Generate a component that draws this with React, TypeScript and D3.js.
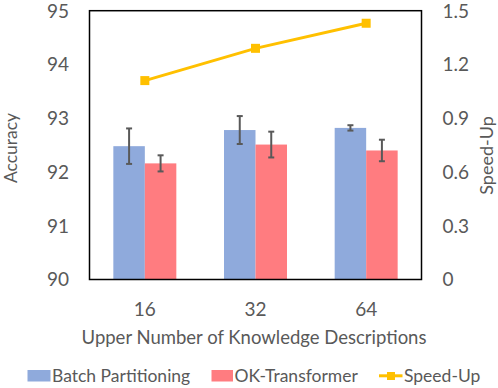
import React from "react";
import * as d3 from "d3";

// values
const categories = ["16", "32", "64"];
const series = ["Batch Partitioning", "OK-Transformer"];
const batchAcc = [92.48, 92.78, 92.82];
const batchErr = [0.33, 0.26, 0.05];
const okAcc = [92.16, 92.51, 92.4];
const okErr = [0.15, 0.24, 0.2];
const speedUp = [1.11, 1.29, 1.43];
const accTicks = [90, 91, 92, 93, 94, 95];
const speedTicks = [0, 0.3, 0.6, 0.9, 1.2, 1.5];

const colors = ["#8FAADC", "#FF7C80"];
const lineColor = "#FFC000";
const textColor = "#595959";
const font = "Lato, 'Open Sans', sans-serif";

const W = 498;
const H = 388;
const plot = { left: 89.5, right: 421.5, top: 10.7, bottom: 279.5 };

export default function App() {
  const x = d3.scaleBand().domain(categories).range([plot.left, plot.right]);
  const sub = d3
    .scaleBand()
    .domain(series)
    .range([0, x.bandwidth()])
    .paddingOuter(0.757);
  const yAcc = d3.scaleLinear().domain([90, 95]).range([plot.bottom, plot.top]);
  const ySpeed = d3.scaleLinear().domain([0, 1.5]).range([plot.bottom, plot.top]);

  const values = [batchAcc, okAcc];
  const errs = [batchErr, okErr];

  const line = d3
    .line<number>()
    .x((_, i) => x(categories[i])! + x.bandwidth() / 2)
    .y((d) => ySpeed(d));

  return (
    <svg width={W} height={H} style={{ position: "absolute", left: 0, top: 0 }} fontFamily={font}>
      <rect width={W} height={H} fill="#fff" />

      {series.map((s, si) =>
        categories.map((c, ci) => {
          const bx = x(c)! + sub(s)!;
          const top = yAcc(values[si][ci]);
          return (
            <rect
              key={s + c}
              x={bx}
              y={top}
              width={sub.bandwidth()}
              height={plot.bottom - top}
              fill={colors[si]}
            />
          );
        })
      )}

      {series.map((s, si) =>
        categories.map((c, ci) => {
          const cx = x(c)! + sub(s)! + sub.bandwidth() / 2;
          const hi = yAcc(values[si][ci] + errs[si][ci]);
          const lo = yAcc(values[si][ci] - errs[si][ci]);
          return (
            <g key={"e" + s + c} stroke="#595959" strokeWidth={2}>
              <line x1={cx} x2={cx} y1={hi} y2={lo} />
              <line x1={cx - 3} x2={cx + 3} y1={hi} y2={hi} />
              <line x1={cx - 3} x2={cx + 3} y1={lo} y2={lo} />
            </g>
          );
        })
      )}

      <rect
        x={plot.left}
        y={plot.top}
        width={plot.right - plot.left}
        height={plot.bottom - plot.top}
        fill="none"
        stroke="#000"
        strokeWidth={1.5}
      />

      <path d={line(speedUp)!} fill="none" stroke={lineColor} strokeWidth={3} />
      {speedUp.map((v, i) => (
        <rect
          key={"m" + i}
          x={x(categories[i])! + x.bandwidth() / 2 - 4.5}
          y={ySpeed(v) - 4.5}
          width={9}
          height={9}
          fill={lineColor}
        />
      ))}

      {accTicks.map((t) => (
        <text key={"l" + t} x={69} y={yAcc(t)} dy="0.36em" textAnchor="end" fontSize={19} fill={textColor}>
          {t}
        </text>
      ))}
      {speedTicks.map((t) => (
        <text key={"r" + t} x={442.5} y={ySpeed(t)} dy="0.36em" textAnchor="start" fontSize={19} fill={textColor}>
          {t === 0 ? "0" : d3.format(".1f")(t)}
        </text>
      ))}
      {categories.map((c) => (
        <text
          key={"x" + c}
          x={x(c)! + x.bandwidth() / 2}
          y={315.7}
          textAnchor="middle"
          fontSize={19}
          fill={textColor}
        >
          {c}
        </text>
      ))}

      <text x={254} y={343.5} textAnchor="middle" fontSize={18.5} fill={textColor}>
        Upper Number of Knowledge Descriptions
      </text>
      <text transform="translate(16.5,148) rotate(-90)" textAnchor="middle" fontSize={17.5} fill={textColor}>
        Accuracy
      </text>
      <text transform="translate(493,155.5) rotate(-90)" textAnchor="middle" fontSize={18} fill={textColor}>
        Speed-Up
      </text>

      <g fontSize={17.5} fill={textColor}>
        <rect x={27.5} y={370} width={23} height={11.5} fill={colors[0]} />
        <text x={52} y={381.5}>{series[0]}</text>
        <rect x={211.5} y={370} width={21.5} height={11.5} fill={colors[1]} />
        <text x={234.5} y={381.5}>{series[1]}</text>
        <line x1={379} x2={402.5} y1={375.8} y2={375.8} stroke={lineColor} strokeWidth={3} />
        <rect x={387} y={372} width={8} height={8} fill={lineColor} />
        <text x={404} y={381.5}>Speed-Up</text>
      </g>
    </svg>
  );
}
